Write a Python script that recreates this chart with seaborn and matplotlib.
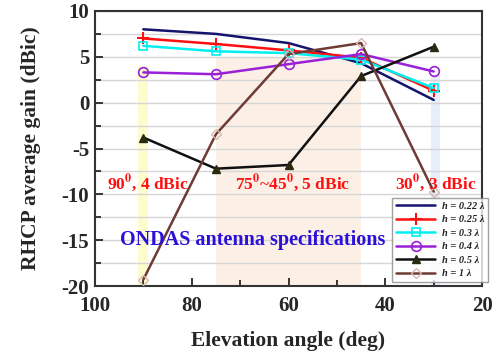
import seaborn as sns
import matplotlib.pyplot as plt
from matplotlib.ticker import MultipleLocator
import pandas as pd

# Данные: угол места и усиление для каждой высоты h
angles = [90, 75, 60, 45, 30]
gain_022 = [8.0, 7.5, 6.5, 4.3, 0.3]
gain_025 = [7.0, 6.4, 5.7, 4.9, 1.3]
gain_03 = [6.2, 5.6, 5.4, 4.7, 1.6]
gain_04 = [3.3, 3.1, 4.2, 5.3, 3.4]
gain_05 = [-3.8, -7.2, -6.8, 2.9, 6.1]
gain_1 = [-19.3, -3.45, 5.3, 6.5, -9.7]
series_labels = ['h = 0.22 λ', 'h = 0.25 λ', 'h = 0.3 λ', 'h = 0.4 λ', 'h = 0.5 λ', 'h = 1 λ']

# Требования спецификации (угол, уровень)
spec_text = [r'90$^\mathbf{0}$, 4 dBic', r'75$^\mathbf{0}$~45$^\mathbf{0}$, 5 dBic', r'30$^\mathbf{0}$, 3 dBic']

sns.set_style('ticks')
plt.rcParams['font.family'] = ['Liberation Serif', 'DejaVu Serif']
plt.rcParams['font.weight'] = 'bold'
plt.rcParams['mathtext.fontset'] = 'stix'
plt.rcParams['axes.unicode_minus'] = False

fig = plt.figure(figsize=(4.97, 3.54), dpi=100)
ax = fig.add_axes([0.191, 0.192, 0.779, 0.777])

# Зоны спецификации
ax.fill_between([89.0, 91.0], -20, 4, color='#fdfccf', lw=0, zorder=0)
ax.fill_between([45, 75], -20, 5, color='#fbefe6', lw=0, zorder=0)
ax.fill_between([28.8, 30.6], -20, 3, color='#e6eef9', lw=0, zorder=0)

styles = [
    dict(color='#14146e', marker='', markeredgecolor='#14146e'),
    dict(color='#ff1010', marker='+', markersize=8, markeredgewidth=1.5, markeredgecolor='#ff1010'),
    dict(color='#00f0f0', marker='s', markersize=6, markerfacecolor='none', markeredgewidth=1.2, markeredgecolor='#00f0f0'),
    dict(color='#9a20d8', marker='o', markersize=7, markerfacecolor='none', markeredgewidth=1.2, markeredgecolor='#9a20d8'),
    dict(color='#111111', marker='^', markersize=6, markerfacecolor='#2a2a10', markeredgecolor='#2a2a10', markeredgewidth=1),
    dict(color='#6e3b35', marker='D', markersize=5, markerfacecolor='none', markeredgecolor='#d8b8b0', markeredgewidth=1),
]
all_gains = [gain_022, gain_025, gain_03, gain_04, gain_05, gain_1]
for gains, label, st in zip(all_gains, series_labels, styles):
    df = pd.DataFrame({'angle': angles, 'gain': gains})
    sns.lineplot(data=df, x='angle', y='gain', ax=ax, label=label, linewidth=1.8,
                 linestyle='-', zorder=3, **st)

ax.set_xlim(100, 20)
ax.set_ylim(-20, 10)
ax.xaxis.set_major_locator(MultipleLocator(20))
ax.xaxis.set_minor_locator(MultipleLocator(10))
ax.yaxis.set_major_locator(MultipleLocator(5))
ax.yaxis.set_minor_locator(MultipleLocator(2.5))
ax.grid(axis='y', which='both', color='#d6d6d6', linewidth=1, zorder=1)
ax.set_axisbelow(True)
ax.tick_params(which='both', direction='in', labelsize=15, width=1.3, top=False, right=False)
ax.tick_params(which='major', length=6)
ax.tick_params(which='minor', length=4)
ax.tick_params(axis='x', pad=7)
ax.tick_params(axis='y', pad=4)
for sp in ax.spines.values():
    sp.set_linewidth(1.5)
    sp.set_color('#333333')
    sp.set_visible(True)
for lab in ax.get_xticklabels() + ax.get_yticklabels():
    lab.set_fontweight('bold')

ax.set_xlabel('Elevation angle (deg)', fontsize=15.5, fontweight='bold', labelpad=11)
ax.set_ylabel('RHCP average gain (dBic)', fontsize=15.5, fontweight='bold', labelpad=15)

ax.text(89, -8.75, spec_text[0], color='#ff1010', fontsize=12.5, fontweight='bold', ha='center', va='center', zorder=4)
ax.text(59.2, -8.75, spec_text[1], color='#ff1010', fontsize=12.5, fontweight='bold', ha='center', va='center', zorder=4)
ax.text(29.6, -8.75, spec_text[2], color='#ff1010', fontsize=12.5, fontweight='bold', ha='center', va='center', zorder=4)
ax.text(67.3, -15.0, 'ONDAS antenna specifications', color='#2a10d8', fontsize=14.5, fontweight='bold', ha='center', va='center', zorder=4)

leg = ax.legend(loc='lower right', bbox_to_anchor=(1.028, -0.004), prop=dict(family='Liberation Serif', style='italic', weight='bold', size=7.5),
                frameon=True, fancybox=False, edgecolor='#888888', handlelength=3.8, labelspacing=0.4,
                borderpad=0.35, handletextpad=0.6)
leg.get_frame().set_linewidth(1)
leg.set_zorder(5)

fig.savefig('out.png', dpi=100)
